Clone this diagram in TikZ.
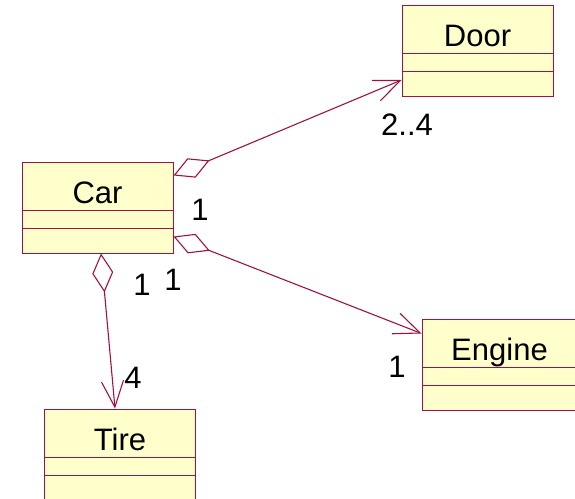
\documentclass[tikz,border=0pt]{standalone}
\usepackage{fontspec}
\setmainfont{Liberation Sans}
\usepackage{xcolor}
\usepackage{tikz}
\usetikzlibrary{arrows.meta,positioning,calc}
\definecolor{roseline}{RGB}{160,18,68}
\definecolor{rosefill}{RGB}{255,255,204}

\begin{document}
\begin{tikzpicture}[x=1pt,y=-1pt,
  font=\fontsize{31}{36}\selectfont,
  umlclass/.style={draw=roseline,fill=rosefill,line width=1pt,inner sep=0pt,
    minimum width=#1,text height=41pt,text depth=50pt,
    path picture={
      \draw[roseline,line width=1pt]
        ([yshift=-48pt]path picture bounding box.north west)--([yshift=-48pt]path picture bounding box.north east)
        ([yshift=-66pt]path picture bounding box.north west)--([yshift=-66pt]path picture bounding box.north east);
    }},
  umlclass/.default=151pt,
  mult/.style={inner sep=0pt,text=black},
  aggr/.style={draw=roseline,line width=1.1pt,
    {Diamond[open,length=39pt,width=21pt]}-{Straight Barb[length=26pt,width=22pt]}}]

\path[use as bounding box] (0,0) rectangle (575,498);
\node[umlclass] (car) at (97.5,207.5) {Car};
\node[umlclass] (door) at (477.5,51) {Door};
\node[umlclass] (tire) at (120,454.5) {Tire};
\node[umlclass=155pt] (engine) at (499.5,364.5) {Engine};

\draw[aggr] ([yshift=32pt]car.east)--([yshift=-29pt]door.west);
\draw[aggr] ([yshift=-29pt]car.east)--([yshift=31pt]engine.west);
\draw[aggr] ([xshift=3.5pt]car.south)--([xshift=-5pt]tire.north);

\node[mult] (mcardoor) at (200,210) {1};
\node[mult] (mdoor) at (407,125) {2..4};
\node[mult] (mcartire) at (142,285) {1};
\node[mult] (mcareng) at (173,280) {1};
\node[mult] (mtire) at (133,378) {4};
\node[mult] (mengine) at (397,367) {1};

\end{tikzpicture}
\end{document}
